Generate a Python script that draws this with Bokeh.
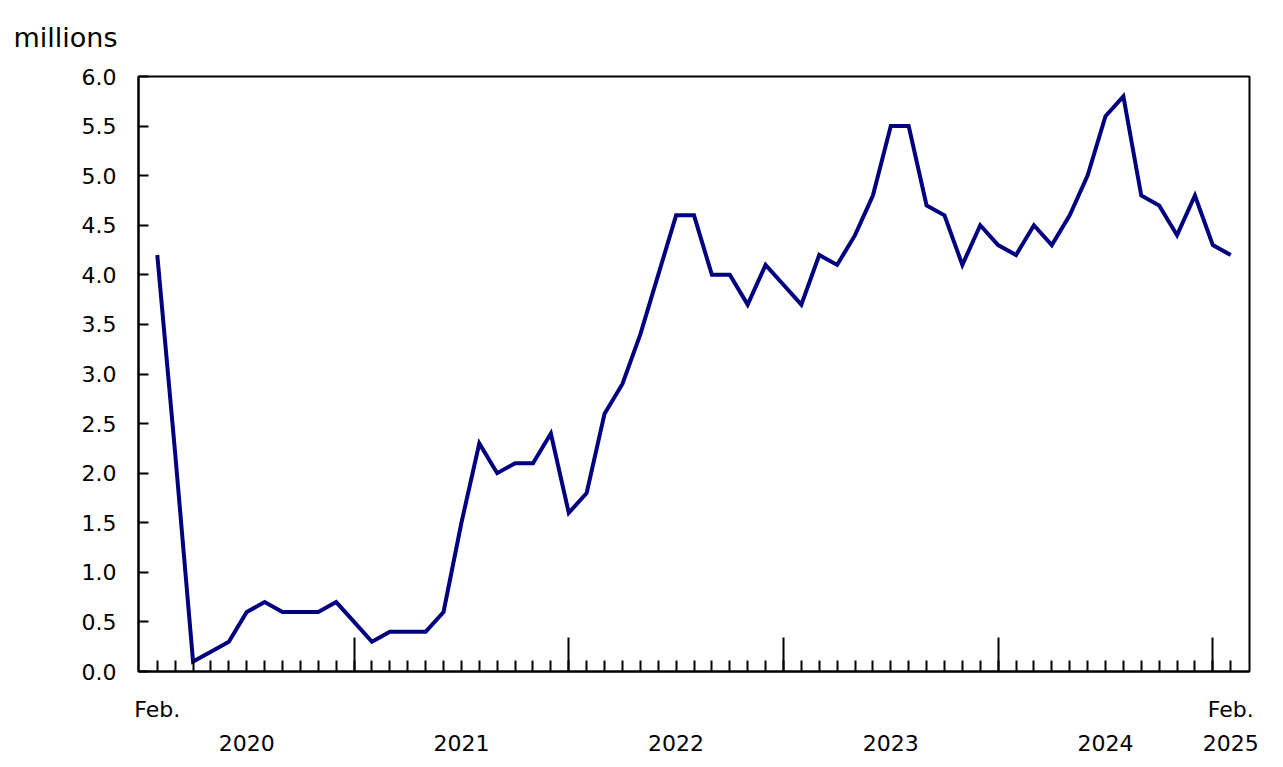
import numpy as np

from bokeh.embed import file_html
from bokeh.models import FixedTicker, LinearAxis, Range1d
from bokeh.plotting import figure
from bokeh.resources import INLINE

# monthly values, Feb. 2020 to Feb. 2025 (millions)
months = list(range(61))
values = [4.2, 2.2, 0.1, 0.2, 0.3, 0.6, 0.7, 0.6, 0.6, 0.6, 0.7,
          0.5, 0.3, 0.4, 0.4, 0.4, 0.6, 1.5, 2.3, 2.0, 2.1, 2.1, 2.4,
          1.6, 1.8, 2.6, 2.9, 3.4, 4.0, 4.6, 4.6, 4.0, 4.0, 3.7, 4.1,
          3.9, 3.7, 4.2, 4.1, 4.4, 4.8, 5.5, 5.5, 4.7, 4.6, 4.1, 4.5,
          4.3, 4.2, 4.5, 4.3, 4.6, 5.0, 5.6, 5.8, 4.8, 4.7, 4.4, 4.8,
          4.3, 4.2]

january_ticks = [11, 23, 35, 47, 59]
feb_ticks = [0, 60]
feb_labels = ["Feb.", "Feb."]
year_ticks = [5, 17, 29, 41, 53, 60]
year_labels = ["2020", "2021", "2022", "2023", "2024", "2025"]
y_ticks = [0.0, 0.5, 1.0, 1.5, 2.0, 2.5, 3.0, 3.5, 4.0, 4.5, 5.0, 5.5, 6.0]

FONT = "DejaVu Sans"

p = figure(width=1273, height=759, output_backend="svg", toolbar_location=None,
           tools="", x_range=Range1d(-1.05, 61.05), y_range=Range1d(0, 6),
           title="millions", x_axis_type=None,
           min_border_left=138, min_border_right=24,
           min_border_top=76, min_border_bottom=88)

p.line(months, values, line_color="#000080", line_width=4, line_join="miter")

p.xgrid.grid_line_color = None
p.ygrid.grid_line_color = None
p.outline_line_color = "black"
p.outline_line_width = 2
p.outline_line_alpha = 1

# title used as the "millions" unit label in the top-left corner
p.title.text_font = FONT
p.title.text_font_size = "27px"
p.title.text_font_style = "normal"
p.title.text_color = "black"
p.title.align = "left"
p.title.vertical_align = "top"
p.title.offset = -125
p.title.standoff = 43

# y axis
p.yaxis.ticker = FixedTicker(ticks=y_ticks)
p.yaxis.major_label_overrides = {t: "%.1f" % t for t in y_ticks}
p.yaxis.major_tick_in = 10
p.yaxis.major_tick_out = 0
p.yaxis.minor_tick_line_color = None
p.yaxis.major_tick_line_width = 2
p.yaxis.axis_line_width = 2
p.yaxis.major_label_standoff = 22
p.yaxis.major_label_text_font = FONT
p.yaxis.major_label_text_font_size = "22px"
p.yaxis.major_label_text_color = "black"

# x axis: long ticks at January, short ticks every month (labels not painted)
xa = LinearAxis(ticker=FixedTicker(ticks=january_ticks, minor_ticks=months))
xa.major_tick_in = 34
xa.major_tick_out = 0
xa.minor_tick_in = 11
xa.minor_tick_out = 0
xa.major_tick_line_width = 2
xa.minor_tick_line_width = 2
xa.axis_line_width = 2
xa.major_label_text_font = FONT
xa.major_label_text_font_size = "22px"
xa.major_label_text_color = None
xa.major_label_standoff = 0
p.add_layout(xa, "below")

# "Feb." labels at the first and last month
fa = LinearAxis(ticker=FixedTicker(ticks=feb_ticks, minor_ticks=[]))
fa.major_label_overrides = dict(zip(feb_ticks, feb_labels))
fa.axis_line_color = None
fa.major_tick_line_color = None
fa.major_tick_in = 0
fa.major_tick_out = 0
fa.major_label_standoff = 25
fa.major_label_text_font = FONT
fa.major_label_text_font_size = "22px"
fa.major_label_text_color = "black"
p.add_layout(fa, "below")

# year labels
ya = LinearAxis(ticker=FixedTicker(ticks=year_ticks, minor_ticks=[]))
ya.major_label_overrides = dict(zip(year_ticks, year_labels))
ya.axis_line_color = None
ya.major_tick_line_color = None
ya.major_tick_in = 0
ya.major_tick_out = 0
ya.major_label_standoff = 10
ya.major_label_text_font = FONT
ya.major_label_text_font_size = "22px"
ya.major_label_text_color = "black"
p.add_layout(ya, "below")

open("out.html", "w").write(file_html(p, INLINE))
